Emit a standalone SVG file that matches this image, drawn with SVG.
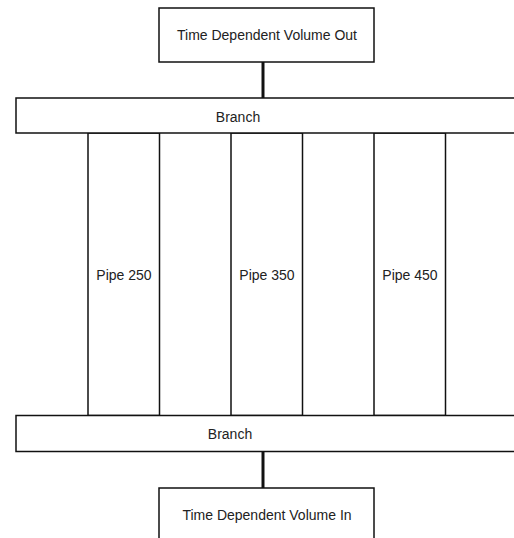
<svg xmlns="http://www.w3.org/2000/svg" width="514" height="538" viewBox="0 0 514 538">
<style>
.box{fill:#fff;stroke:#111;stroke-width:1.5}
.lbl{font-family:"Liberation Sans",Arial,sans-serif;font-size:14px;fill:#222;text-anchor:middle}
.conn{stroke:#111;stroke-width:3;fill:none}
</style>
<rect width="514" height="538" fill="#fff"/>
<g id="connectors">
<line class="conn" x1="263" y1="62" x2="263" y2="98"/>
<line class="conn" x1="263" y1="452" x2="263" y2="488"/>
</g>
<g id="tdv-out">
<rect class="box" x="159" y="8" width="215" height="54"/>
<text class="lbl" x="267" y="40">Time Dependent Volume Out</text>
</g>
<g id="pipe-250">
<rect class="box" x="88" y="133" width="71.5" height="282.5"/>
<text class="lbl" x="124" y="280">Pipe 250</text>
</g>
<g id="pipe-350">
<rect class="box" x="231" y="133" width="71.5" height="282.5"/>
<text class="lbl" x="267" y="280">Pipe 350</text>
</g>
<g id="pipe-450">
<rect class="box" x="374" y="133" width="71.5" height="282.5"/>
<text class="lbl" x="410" y="280">Pipe 450</text>
</g>
<g id="branch-top">
<rect class="box" x="16" y="98" width="504" height="35"/>
<text class="lbl" x="238" y="122">Branch</text>
</g>
<g id="branch-bottom">
<rect class="box" x="16" y="415.5" width="504" height="36"/>
<text class="lbl" x="230" y="439">Branch</text>
</g>
<g id="tdv-in">
<rect class="box" x="159" y="488" width="215" height="60"/>
<text class="lbl" x="267" y="520">Time Dependent Volume In</text>
</g>
</svg>
